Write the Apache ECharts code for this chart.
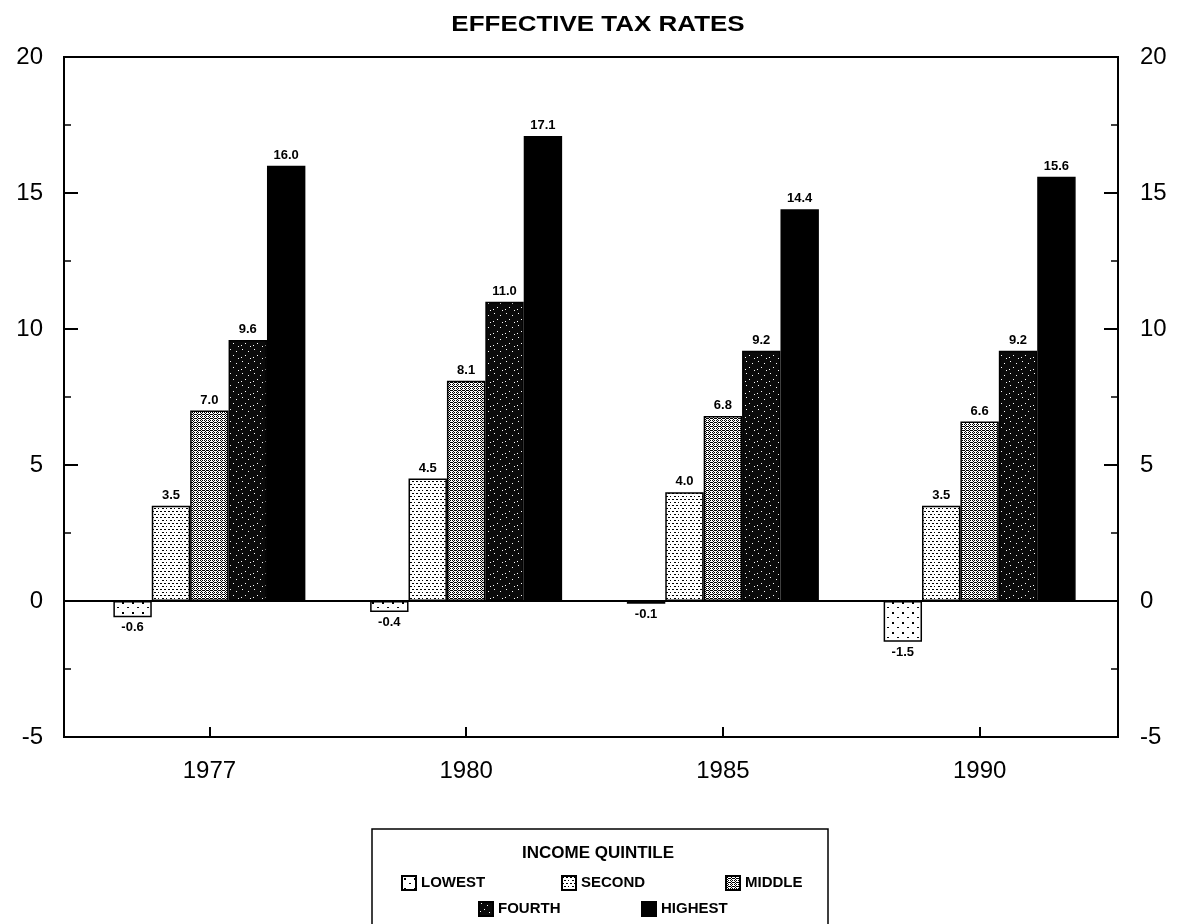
<!DOCTYPE html>
<html>
<head>
<meta charset="utf-8">
<style>
  html, body { margin: 0; padding: 0; background: #fff; }
  #chart { width: 1196px; height: 924px; }
</style>
<script src="https://cdn.jsdelivr.net/npm/echarts@6/dist/echarts.min.js"></script>
</head>
<body>
<div id="chart"></div>
<script>
// Effective tax rates by income quintile, selected years (percent)
const years = ['1977', '1980', '1985', '1990'];
const quintiles = ['LOWEST', 'SECOND', 'MIDDLE', 'FOURTH', 'HIGHEST'];
const lowest  = [-0.6, -0.4, -0.1, -1.5];
const second  = [3.5, 4.5, 4.0, 3.5];
const middle  = [7.0, 8.1, 6.8, 6.6];
const fourth  = [9.6, 11.0, 9.2, 9.2];
const highest = [16.0, 17.1, 14.4, 15.6];
const yTicks = [-5, 0, 5, 10, 15, 20];

const seriesValues = [lowest, second, middle, fourth, highest];

// Small monochrome fill textures, one per quintile
function texture(w, h, bg, fg, dots) {
  const c = document.createElement('canvas');
  c.width = w; c.height = h;
  const ctx = c.getContext('2d');
  ctx.fillStyle = bg;
  ctx.fillRect(0, 0, w, h);
  ctx.fillStyle = fg;
  dots.forEach(d => ctx.fillRect(d[0], d[1], d[2] || 1, d[3] || 1));
  return { image: c, repeat: 'repeat' };
}

const fills = [
  // sparse dots
  texture(10, 10, '#ffffff', '#000000', [[2, 2, 2, 2], [7, 7, 2, 1]]),
  // dense dotted rows
  texture(8, 6, '#ffffff', '#000000', [[0, 1, 2, 1], [4, 1, 2, 1], [2, 4, 2, 1], [6, 4, 1, 1]]),
  // medium cross-hatch
  texture(4, 4, '#ffffff', '#000000', [[0, 0], [2, 0], [1, 1], [3, 2], [0, 2], [1, 3], [2, 2]]),
  // dark with light specks
  texture(12, 12, '#0a0a0a', '#ffffff', [[2, 1], [8, 3], [5, 7], [1, 9], [10, 10]]),
  // solid
  '#000000'
];

const FONT = '"Liberation Sans", Arial, sans-serif';

const series = quintiles.map((name, i) => ({
  name: name,
  type: 'bar',
  xAxisIndex: 1,
  yAxisIndex: 2,
  barWidth: 38.4,
  barGap: '0%',
  itemStyle: { color: fills[i], borderColor: '#000', borderWidth: 1.5 },
  label: {
    show: true,
    fontFamily: FONT,
    fontWeight: 'bold',
    fontSize: 13,
    color: '#000',
    distance: 4,
    formatter: p => Number(p.value).toFixed(1)
  },
  data: seriesValues[i].map(v => ({
    value: v,
    label: { position: v < 0 ? 'bottom' : 'top' }
  }))
}));

// Legend entries, placed individually inside the box
const legendPos = [
  { left: 401, top: 875 }, { left: 561, top: 875 }, { left: 725, top: 875 },
  { left: 478, top: 901 }, { left: 641, top: 901 }
];
const legends = quintiles.map((name, i) => ({
  data: [{ name: name, icon: 'rect' }],
  left: legendPos[i].left,
  top: legendPos[i].top,
  itemWidth: 14,
  itemHeight: 14,
  itemGap: 0,
  padding: 0,
  selectedMode: false,
  textStyle: { fontFamily: FONT, fontWeight: 'bold', fontSize: 15, color: '#000' }
}));

const yBase = {
  min: -5,
  max: 20,
  interval: 5,
  splitLine: { show: false },
  minorSplitLine: { show: false }
};

const chart = echarts.init(document.getElementById('chart'), null, { renderer: 'canvas' });
chart.setOption({
  backgroundColor: '#fff',
  animation: false,
  title: [
    {
      text: 'INCOME QUINTILE',
      left: 'center',
      top: 840,
      textStyle: { fontFamily: FONT, fontWeight: 'bold', fontSize: 17, color: '#000' }
    }
  ],
  legend: legends,
  grid: [
    { left: 64, right: 78, top: 57, bottom: 187, show: true, borderColor: '#000', borderWidth: 2, backgroundColor: 'transparent' },
    { left: 81, right: 88, top: 57, bottom: 187 }
  ],
  xAxis: [
    {
      // frame axis: draws the zero line across the full frame
      type: 'value', gridIndex: 0, min: 0, max: 1,
      axisLine: { show: true, onZero: true, lineStyle: { color: '#000', width: 2 } },
      axisTick: { show: false }, axisLabel: { show: false }, splitLine: { show: false }
    },
    {
      type: 'category', gridIndex: 1, data: years,
      axisLine: { show: false, onZero: false },
      axisTick: { show: true, inside: true, length: 10, alignWithLabel: true, lineStyle: { color: '#000', width: 2 } },
      axisLabel: { fontFamily: FONT, fontSize: 24, color: '#000', margin: 22 }
    }
  ],
  yAxis: [
    Object.assign({}, yBase, {
      type: 'value', gridIndex: 0, position: 'left',
      axisLine: { show: true, lineStyle: { color: '#000', width: 2 } },
      axisTick: { show: true, inside: true, length: 14, lineStyle: { color: '#000', width: 2 } },
      minorTick: { show: true, splitNumber: 2, length: 7, lineStyle: { color: '#000', width: 1.5 } },
      axisLabel: { fontFamily: FONT, fontSize: 24, color: '#000', margin: 21, formatter: v => yTicks.includes(v) ? String(v) : '' }
    }),
    Object.assign({}, yBase, {
      type: 'value', gridIndex: 0, position: 'right',
      axisLine: { show: true, lineStyle: { color: '#000', width: 2 } },
      axisTick: { show: true, inside: true, length: 14, lineStyle: { color: '#000', width: 2 } },
      minorTick: { show: true, splitNumber: 2, length: 7, lineStyle: { color: '#000', width: 1.5 } },
      axisLabel: { fontFamily: FONT, fontSize: 24, color: '#000', margin: 22, formatter: v => yTicks.includes(v) ? String(v) : '' }
    }),
    Object.assign({}, yBase, { type: 'value', gridIndex: 1, show: false })
  ],
  graphic: [
    {
      // chart title, set in a widened face
      type: 'text',
      x: 598,
      y: 25,
      scaleX: 1.18,
      style: {
        text: 'EFFECTIVE TAX RATES',
        fontFamily: FONT,
        fontWeight: 'bold',
        fontSize: 22,
        fill: '#000',
        align: 'center',
        verticalAlign: 'middle'
      },
      silent: true
    },
    {
      type: 'rect',
      shape: { x: 372, y: 829, width: 456, height: 110 },
      style: { fill: 'transparent', stroke: '#000', lineWidth: 1.5 },
      silent: true
    }
  ],
  series: series
});
</script>
</body>
</html>
